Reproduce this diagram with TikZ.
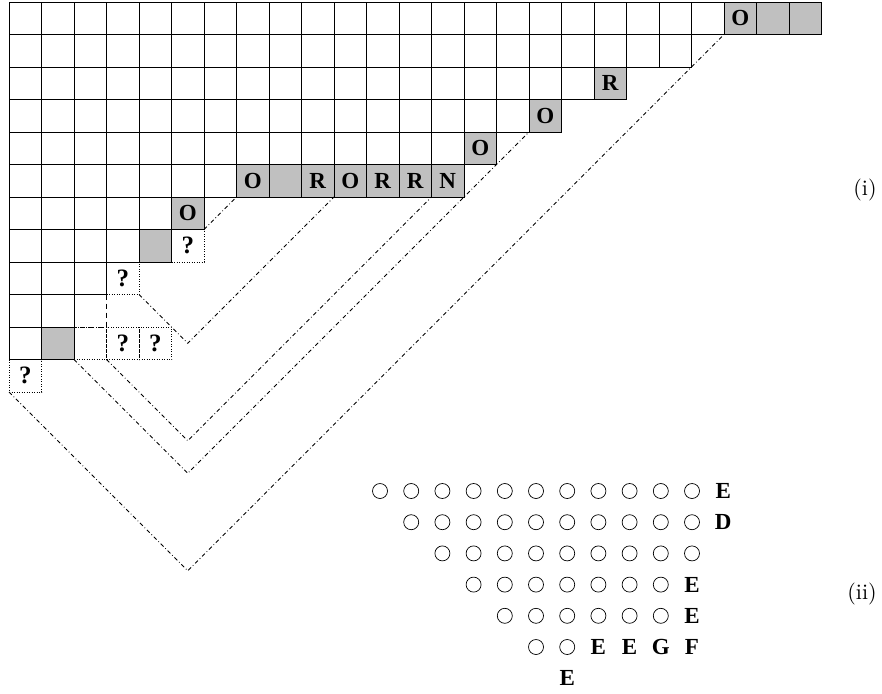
\documentclass[tikz,border=0pt]{standalone}
\usepackage{fontspec}
\newfontfamily\tnr{Liberation Serif}
\newfontfamily\lmten{lmroman10-regular}[Extension=.otf]
\definecolor{cellgray}{RGB}{192,192,192}
\tikzset{
  cellline/.style={line width=0.8pt, draw=black},
  dotline/.style={line width=0.7pt, dash pattern=on 0.7pt off 1.8pt},
  dashline/.style={line width=0.8pt, dash pattern=on 5pt off 4pt},
  dashdotline/.style={line width=0.75pt, dash pattern=on 4pt off 2.5pt on 0.75pt off 2.5pt},
  lettr/.style={inner sep=0pt, font=\tnr\bfseries\fontsize{23}{23}\selectfont},
  qlettr/.style={inner sep=0pt, font=\tnr\bfseries\fontsize{25}{25}\selectfont},
  ring/.style={circle, draw, line width=0.7pt, minimum size=15pt, inner sep=0pt},
  partlabel/.style={inner sep=0pt, font=\lmten\fontsize{22}{22}\selectfont},
}
\begin{document}
\begin{tikzpicture}[x=1pt,y=-1pt]
\useasboundingbox (0,0) rectangle (882,693);
\begin{scope}[shift={(9pt,-2pt)}, x=32.5pt, y=-32.5pt]
  % gray fills
  \foreach \r/\c in {0/22,0/23,0/24,2/18,3/16,4/14,5/7,5/8,5/9,5/10,5/11,5/12,5/13,6/5,7/4,10/1}
    \fill[cellgray] (\c,\r) rectangle ++(1,1);
  % dotted boxes
  \foreach \r/\c in {7/5,8/3,10/2,10/3,10/4,11/0}
    \draw[dotline] (\c,\r) rectangle ++(1,1);
  % dashed edges
  \draw[dashline] (3,9) -- (3,10) -- (2,10);
  % solid grid
  \foreach \r/\n in {0/25,1/21,2/19,3/17,4/15,5/14,6/6,7/5,8/3,9/2,10/2}
    \foreach \c in {1,...,\n}
      \draw[cellline] (\c-1,\r) rectangle ++(1,1);
  % letters
  \foreach \nm/\c/\r/\t in {a/22/0/O,b/18/2/R,c/16/3/O,d/14/4/O,e/7/5/O,f/9/5/R,g/10/5/O,h/11/5/R,i/12/5/R,j/13/5/N,k/5/6/O}
    \node[lettr] (L\nm) at (\c+0.5,\r+0.5) {\t};
  \foreach \nm/\c/\r in {a/5/7,b/3/8,c/3/10,d/4/10,e/0/11}
    \node[qlettr] (Q\nm) at (\c+0.5,\r+0.5) {?};
  % connector points
  \coordinate (s0a) at (6,7);   \coordinate (s0b) at (7,6);
  \coordinate (v1a) at (4,9);   \coordinate (v1b) at (5.5,10.5); \coordinate (v1c) at (10,6);
  \coordinate (v2a) at (3,11);  \coordinate (v2b) at (5.5,13.5); \coordinate (v2c) at (13,6);
  \coordinate (v3a) at (2,11);  \coordinate (v3b) at (5.5,14.5); \coordinate (v3c) at (16,4);
  \coordinate (v4a) at (0,12);  \coordinate (v4b) at (5.5,17.5); \coordinate (v4c) at (22,1);
  \draw[dashdotline] (s0a) -- (s0b);
  \draw[dashdotline] (v1a) -- (v1b) -- (v1c);
  \draw[dashdotline] (v2a) -- (v2b) -- (v2c);
  \draw[dashdotline] (v3a) -- (v3b) -- (v3c);
  \draw[dashdotline] (v4a) -- (v4b) -- (v4c);
\end{scope}
\begin{scope}[shift={(380pt,-491pt)}, x=31.2pt, y=-31.2pt]
  \foreach \j/\a/\b in {0/0/10,1/1/10,2/2/10,3/3/9,4/4/9,5/5/6}
    \foreach \k in {\a,...,\b}
      \node[ring] (c\j-\k) at (\k,\j) {};
  \foreach \nm/\k/\j/\t in {a/11/0/E,b/11/1/D,c/10/3/E,d/10/4/E,e/7/5/E,f/8/5/E,g/9/5/G,h/10/5/F,i/6/6/E}
    \node[lettr] (T\nm) at (\k,\j) {\t};
\end{scope}
\node[partlabel] (lab1) at (865,190) {(i)};
\node[partlabel] (lab2) at (862,594) {(ii)};
\end{tikzpicture}
\end{document}
